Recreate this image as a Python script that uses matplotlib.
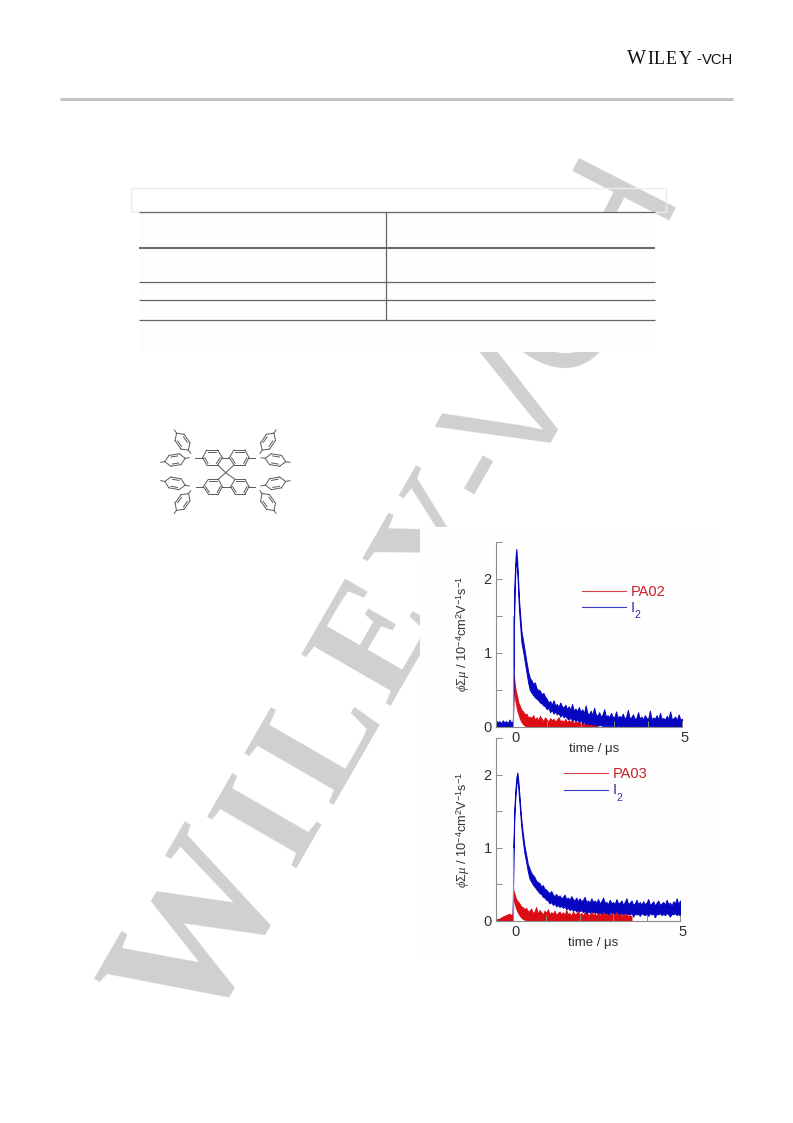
import numpy as np
import matplotlib
matplotlib.use("Agg")
import matplotlib.pyplot as plt
from matplotlib.patches import Rectangle
from matplotlib.transforms import ScaledTranslation

plt.rcParams["font.family"] = ["Liberation Sans", "DejaVu Sans"]
plt.rcParams["mathtext.fontset"] = "custom"
plt.rcParams["mathtext.rm"] = "Liberation Sans"
plt.rcParams["mathtext.it"] = "Liberation Serif:italic"
plt.rcParams["mathtext.bf"] = "Liberation Sans:bold"

# sample times of the decay tails, shared by all traces
t_tail = [0.5, 0.55, 0.6, 0.65, 0.7, 0.75, 0.8, 0.85, 0.9, 0.95,
          1.0, 1.05, 1.1, 1.15, 1.2, 1.25, 1.3, 1.35, 1.4, 1.45,
          1.5, 1.55, 1.6, 1.65, 1.7, 1.75, 1.8, 1.85, 1.9, 1.95,
          2.0, 2.05, 2.1, 2.15, 2.2, 2.25, 2.3, 2.35, 2.4, 2.45,
          2.5, 2.55, 2.6, 2.65, 2.7, 2.75, 2.8, 2.85, 2.9, 2.95,
          3.0, 3.05, 3.1, 3.15, 3.2, 3.25, 3.3, 3.35, 3.4, 3.45,
          3.5, 3.55, 3.6, 3.65, 3.7, 3.75, 3.8, 3.85, 3.9, 3.95,
          4.0, 4.05, 4.1, 4.15, 4.2, 4.25, 4.3, 4.35, 4.4, 4.45,
          4.5, 4.55, 4.6, 4.65, 4.7, 4.75, 4.8, 4.85, 4.9, 4.95, 5.0]

# Upper panel, blue trace (I2): top and bottom edge of the noisy band
t_top_blue = [-0.5, -0.45, -0.4, -0.35, -0.3, -0.25, -0.2, -0.15, -0.1, -0.05, -0.01, 0.0, 0.03, 0.05, 0.08, 0.1, 0.13, 0.18, 0.25, 0.33, 0.4, 0.45] + t_tail
hi_top_blue = [0.09, 0.06, 0.08, 0.05, 0.09, 0.06, 0.08, 0.05, 0.10, 0.06, 0.07, 0.1, 1.45, 2.0, 2.3, 2.4, 2.22, 1.72, 1.3, 1.08, 0.88, 0.75,
               0.66, 0.63, 0.58, 0.60, 0.52, 0.50, 0.49, 0.44, 0.46, 0.41,
               0.38, 0.33, 0.35, 0.30, 0.36, 0.29, 0.31, 0.27, 0.33, 0.28,
               0.26, 0.30, 0.24, 0.28, 0.23, 0.31, 0.22, 0.25, 0.21, 0.27,
               0.20, 0.24, 0.18, 0.29, 0.19, 0.17, 0.22, 0.16, 0.26, 0.17,
               0.15, 0.20, 0.14, 0.17, 0.24, 0.14, 0.16, 0.13, 0.19, 0.14,
               0.13, 0.21, 0.12, 0.15, 0.13, 0.18, 0.11, 0.14, 0.23, 0.12,
               0.13, 0.17, 0.11, 0.12, 0.20, 0.11, 0.14, 0.10, 0.16, 0.12,
               0.11, 0.22, 0.10, 0.13, 0.11, 0.16, 0.10, 0.19, 0.11, 0.12,
               0.10, 0.15, 0.11, 0.21, 0.10, 0.12, 0.14, 0.09, 0.17, 0.10, 0.11]
lo_top_blue = [0.0, 0.01, 0.0, 0.01, 0.0, 0.01, 0.0, 0.01, 0.0, 0.01, 0.0, 0.0, 1.3, 1.85, 2.18, 2.28, 2.08, 1.58, 1.15, 0.94, 0.74, 0.60,
               0.50, 0.46, 0.43, 0.40, 0.38, 0.36, 0.33, 0.32, 0.29, 0.28,
               0.24, 0.26, 0.20, 0.23, 0.18, 0.21, 0.17, 0.19, 0.14, 0.17,
               0.13, 0.15, 0.12, 0.10, 0.13, 0.09, 0.11, 0.08, 0.10, 0.07,
               0.08, 0.05, 0.07, 0.04, 0.06, 0.03, 0.05, 0.03, 0.04, 0.02,
               0.03, 0.02, 0.03, 0.01, 0.02, 0.01, 0.02, 0.01, 0.02, 0.0,
               0.01, 0.0, 0.02, 0.01, 0.0, 0.01, 0.0, 0.02, 0.0, 0.01,
               0.0, 0.01, 0.0, 0.0, 0.02, 0.0, 0.01, 0.0, 0.0, 0.01,
               0.0, 0.01, 0.0, 0.02, 0.0, 0.0, 0.01, 0.0, 0.0, 0.01,
               0.0, 0.01, 0.0, 0.0, 0.02, 0.0, 0.0, 0.01, 0.0, 0.0, 0.01]

# Upper panel, red trace (PA02), band runs down to the axis after the decay
t_top_red = [-0.5, -0.01, 0.0, 0.02, 0.05, 0.08, 0.12, 0.16, 0.2, 0.25, 0.3, 0.35, 0.4, 0.45] + t_tail[:41]
hi_top_red = [0.05, 0.05, 0.08, 0.72, 0.60, 0.50, 0.42, 0.33, 0.29, 0.23, 0.21, 0.17, 0.18, 0.13,
              0.14, 0.12, 0.16, 0.10, 0.13, 0.09, 0.15, 0.11, 0.08, 0.13,
              0.10, 0.07, 0.12, 0.09, 0.11, 0.07, 0.10, 0.13, 0.08, 0.09,
              0.07, 0.11, 0.06, 0.09, 0.07, 0.10, 0.05, 0.08, 0.06, 0.07,
              0.05, 0.07, 0.04, 0.06, 0.05, 0.04, 0.06, 0.03, 0.05, 0.03, 0.04]
lo_top_red_head = [0.0, 0.0, 0.0, 0.62, 0.45, 0.34, 0.24, 0.18, 0.12, 0.07, 0.04, 0.02, 0.01, 0.0]

# Lower panel, blue trace (I2)
t_bot_blue = [-0.5, -0.3, -0.1, -0.01, 0.0, 0.02, 0.05, 0.08, 0.11, 0.14, 0.17, 0.2, 0.25, 0.3, 0.35, 0.4, 0.45] + t_tail
hi_bot_blue = [0.02, 0.04, 0.05, 0.06, 0.1, 1.0, 1.55, 1.8, 1.97, 2.03, 1.9, 1.72, 1.42, 1.2, 1.03, 0.91, 0.78,
               0.72, 0.66, 0.63, 0.60, 0.55, 0.53, 0.52, 0.47, 0.49, 0.44,
               0.43, 0.40, 0.38, 0.41, 0.36, 0.34, 0.37, 0.33, 0.35, 0.31,
               0.33, 0.36, 0.30, 0.32, 0.29, 0.34, 0.30, 0.28, 0.32, 0.27,
               0.31, 0.27, 0.29, 0.33, 0.26, 0.28, 0.25, 0.31, 0.26, 0.28,
               0.25, 0.30, 0.24, 0.27, 0.32, 0.25, 0.26, 0.23, 0.29, 0.24,
               0.26, 0.23, 0.30, 0.24, 0.25, 0.28, 0.22, 0.26, 0.31, 0.23,
               0.25, 0.28, 0.22, 0.24, 0.29, 0.23, 0.26, 0.22, 0.27, 0.23,
               0.25, 0.30, 0.22, 0.24, 0.27, 0.21, 0.25, 0.28, 0.22, 0.24,
               0.26, 0.22, 0.29, 0.23, 0.25, 0.21, 0.27, 0.24, 0.31, 0.23, 0.28]
lo_bot_blue = [0.0, 0.0, 0.01, 0.01, 0.0, 0.9, 1.45, 1.7, 1.87, 1.93, 1.8, 1.62, 1.32, 1.1, 0.93, 0.81, 0.68,
               0.58, 0.54, 0.50, 0.47, 0.44, 0.41, 0.38, 0.37, 0.33, 0.32,
               0.29, 0.28, 0.24, 0.26, 0.22, 0.24, 0.20, 0.22, 0.19, 0.21,
               0.18, 0.20, 0.16, 0.18, 0.15, 0.17, 0.14, 0.16, 0.13, 0.15,
               0.13, 0.15, 0.12, 0.14, 0.10, 0.13, 0.12, 0.09, 0.13, 0.11,
               0.12, 0.10, 0.12, 0.09, 0.12, 0.10, 0.11, 0.08, 0.12, 0.10,
               0.11, 0.08, 0.11, 0.10, 0.07, 0.11, 0.09, 0.11, 0.07, 0.10,
               0.09, 0.11, 0.06, 0.10, 0.09, 0.10, 0.07, 0.11, 0.09, 0.08,
               0.10, 0.07, 0.11, 0.09, 0.10, 0.05, 0.10, 0.09, 0.11, 0.08,
               0.10, 0.08, 0.11, 0.09, 0.06, 0.10, 0.09, 0.11, 0.08, 0.10, 0.07]

# Lower panel, red trace (PA03)
t_bot_red = [-0.5, -0.4, -0.3, -0.2, -0.1, -0.01, 0.0, 0.02, 0.06, 0.1, 0.15, 0.2, 0.25, 0.3, 0.35, 0.4, 0.45] + t_tail[:62]
hi_bot_red = [0.01, 0.03, 0.06, 0.08, 0.10, 0.07, 0.10, 0.42, 0.36, 0.30, 0.27, 0.24, 0.20, 0.19, 0.16, 0.18, 0.13,
              0.14, 0.17, 0.11, 0.13, 0.19, 0.10, 0.15, 0.12, 0.09, 0.14,
              0.11, 0.16, 0.09, 0.12, 0.10, 0.14, 0.08, 0.11, 0.13, 0.09,
              0.12, 0.08, 0.15, 0.09, 0.11, 0.07, 0.13, 0.09, 0.10, 0.14,
              0.08, 0.11, 0.07, 0.12, 0.09, 0.10, 0.07, 0.13, 0.08, 0.10,
              0.07, 0.11, 0.09, 0.07, 0.12, 0.08, 0.10, 0.07, 0.09, 0.11,
              0.07, 0.09, 0.12, 0.07, 0.10, 0.07, 0.09, 0.08, 0.10, 0.06,
              0.08, 0.06]
lo_bot_red_head = [0.0, 0.0, 0.01, 0.01, 0.01, 0.0, 0.0, 0.34, 0.24, 0.17, 0.12, 0.08, 0.05, 0.03, 0.02, 0.01, 0.0]

x_ticks = [0, 5]
x_minor = [1, 2, 3, 4]
y_ticks = [0, 1, 2]
y_minor = [0.5, 1.5, 2.5]
y_label = r"$\phi\Sigma\mu$ / 10$^{-4}$cm$^{2}$V$^{-1}$s$^{-1}$"
x_label = "time / \u03bcs"

# watermark letters: character, font, weight, size, left baseline point on the page (pixels), angle
wm_letters = [("W", "Liberation Serif", "bold", 135, 199, 1041, 60), ("I", "Liberation Serif", "bold", 113, 292, 868, 60),
              ("L", "Liberation Serif", "bold", 113, 331, 805, 60), ("E", "Liberation Serif", "bold", 113, 388, 706, 60),
              ("Y", "Liberation Serif", "bold", 113, 449, 610, 60), ("-", "Liberation Sans", "normal", 113, 499, 512, 60),
              ("V", "Liberation Sans", "normal", 113, 528, 481, 60), ("C", "Liberation Sans", "normal", 113, 572, 385, 60),
              ("H", "Liberation Sans", "normal", 113, 624, 286, 63)]

table_rows = [212, 248, 282, 300, 320]

# header logo pieces: text, font, size, x
logo_parts = [("W", "Liberation Serif", 14.5, 627), ("I", "Liberation Serif", 13, 647), ("L", "Liberation Serif", 13, 653.5),
              ("E", "Liberation Serif", 13, 666), ("Y", "Liberation Serif", 13, 679), ("-", "Liberation Sans", 10.6, 696),
              ("VCH", "Liberation Sans", 10.6, 702)]

GRAY = "#d0d0d0"
BLUE = "#0606c0"
RED = "#dc0c14"
AXC = "#8c8c8c"
TXT = "#303030"

W, H = 793, 1123
fig = plt.figure(figsize=(7.93, 11.23), dpi=100)

# page axes in pixel coordinates
page = fig.add_axes([0, 0, 1, 1])
page.set_xlim(0, W)
page.set_ylim(H, 0)
page.axis("off")

for ch, fam, wt, size, x, y, ang in wm_letters:
    page.text(x, y, ch, family=fam, weight=wt, fontsize=size, color=GRAY, rotation=ang,
              rotation_mode="anchor", ha="left", va="baseline", zorder=1, clip_on=True)

# white panels that hide the watermark
page.add_patch(Rectangle((140, 212), 515, 140, fc="#fdfdfd", ec="none", zorder=2))
page.add_patch(Rectangle((420, 527), 300, 433, fc="#fefefe", ec="none", zorder=2))
page.add_patch(Rectangle((131, 188), 535, 24, fc="none", ec="#ececec", lw=1, zorder=3))

# header
page.plot([60, 733], [99, 99], color="#c4c4c4", lw=2.2, zorder=3, solid_capstyle="butt")
for s, fam, size, x in logo_parts:
    page.text(x, 63.5, s, family=fam, fontsize=size, color="#111111", va="baseline", zorder=3)

# table rules
for i, y in enumerate(table_rows):
    page.plot([139, 655], [y, y], color="#666666", lw=1.4 if i == 1 else 0.9, zorder=3, solid_capstyle="butt")
page.plot([386, 386], [table_rows[0], table_rows[-1]], color="#666666", lw=0.9, zorder=3)

def mol_x(z):
    return 140 + z / 3

def mol_y(z):
    return 420 + z / 3

def bond(x0, y0, x1, y1):
    page.plot([mol_x(x0), mol_x(x1)], [mol_y(y0), mol_y(y1)], color="#5a5a5a", lw=0.7, zorder=3)

rings = [[(200, 90), (233, 90), (247, 113), (233, 135), (200, 135), (188, 113)],
         [(282, 90), (315, 90), (327, 113), (315, 135), (282, 135), (268, 113)],
         [(205, 178), (235, 178), (247, 200), (235, 222), (205, 222), (190, 200)],
         [(285, 178), (315, 178), (327, 200), (315, 222), (285, 222), (272, 200)]]
for r in rings:
    for k in range(6):
        bond(*r[k], *r[(k + 1) % 6])
    # inner double bonds
    c = np.mean(r, axis=0)
    for k in (0, 2, 4):
        a = c + (np.array(r[k]) - c) * 0.78
        b = c + (np.array(r[(k + 1) % 6]) - c) * 0.78
        bond(a[0], a[1], b[0], b[1])

for a, b in [((233, 135), (257, 158)), ((282, 135), (257, 158)), ((235, 178), (257, 158)), ((285, 178), (257, 158)),
             ((247, 113), (268, 113)), ((247, 200), (272, 200)),
             ((188, 113), (165, 113)), ((327, 113), (345, 113)), ((190, 200), (168, 200)), ((327, 200), (345, 200))]:
    bond(*a, *b)

tolyl_ends = [((62, 127), (148, 113)), ((103, 30), (152, 100)), ((62, 182), (148, 198)), ((103, 280), (152, 212)),
              ((450, 127), (363, 113)), ((408, 30), (360, 100)), ((450, 182), (363, 198)), ((408, 280), (360, 212))]
for p0, p1 in tolyl_ends:
    p0 = np.array(p0, float)
    p1 = np.array(p1, float)
    u = (p1 - p0) / np.linalg.norm(p1 - p0)
    n = np.array([-u[1], u[0]])
    c = (p0 + p1) / 2
    # rings look squashed across their long axis
    pts = [c + 31 * np.cos(a) * u + 19 * np.sin(a) * n for a in np.deg2rad([0, 60, 120, 180, 240, 300])]
    for k in range(6):
        bond(*pts[k], *pts[(k + 1) % 6])
    for k in (1, 4):
        a = c + (pts[k] - c) * 0.65
        b = c + (pts[k + 1] - c) * 0.65
        bond(a[0], a[1], b[0], b[1])
    bond(*p0, *pts[3])
    bond(*p1, *pts[0])


def chart_ax(left, right, top, bottom):
    return fig.add_axes([left / W, 1 - bottom / H, (right - left) / W, (bottom - top) / H], facecolor="none")


def style(ax):
    ax.set_xlim(-0.5, 5)
    ax.set_ylim(0, 2.5)
    ax.spines["top"].set_visible(False)
    ax.spines["right"].set_visible(False)
    ax.spines["left"].set_color(AXC)
    ax.spines["bottom"].set_color(AXC)
    ax.spines["left"].set_linewidth(0.8)
    ax.spines["bottom"].set_linewidth(0.8)
    ax.set_xticks(x_ticks)
    ax.set_xticks(x_minor, minor=True)
    ax.set_yticks(y_ticks)
    ax.set_yticks(y_minor, minor=True)
    ax.tick_params(axis="both", which="major", direction="in", length=4, width=0.7, color=AXC,
                   labelsize=10.5, labelcolor=TXT, pad=3)
    ax.tick_params(axis="both", which="minor", direction="in", length=4, width=0.7, color=AXC)
    # the x labels sit a little right of their ticks
    for lab in ax.get_xticklabels():
        lab.set_transform(lab.get_transform() + ScaledTranslation(2.5 / 100, 0, fig.dpi_scale_trans))
    ax.set_ylabel(y_label, fontsize=9.2, color=TXT)
    ax.yaxis.set_label_coords(-0.13, 0.5)
    ax.set_xlabel(x_label, fontsize=9.5, color=TXT)
    ax.xaxis.set_label_coords(0.527, -0.085)


def band(ax, t, lo, hi, color):
    ax.fill_between(t, lo, hi, facecolor=color, edgecolor=color, lw=0.7)


top = chart_ax(496, 682, 541.5, 727)
top.plot([0, 0], [0, 1.5], color="#8a8ac8", lw=0.8)
band(top, t_top_red, lo_top_red_head + [0.0] * 41, hi_top_red, RED)
band(top, t_top_blue, lo_top_blue, hi_top_blue, BLUE)
style(top)

bot = chart_ax(496, 680, 738, 921)
bot.plot([0, 0], [0, 1.0], color="#8a8ac8", lw=0.8)
band(bot, t_bot_blue, lo_bot_blue, hi_bot_blue, BLUE)
band(bot, t_bot_red, lo_bot_red_head + [0.0] * 62, hi_bot_red, RED)
style(bot)

# hand-placed legends
for x0, y_r, y_b, label in [(582, 591, 607, "PA02"), (564, 773, 790, "PA03")]:
    page.plot([x0, x0 + 44], [y_r, y_r], color="#d84048", lw=0.8, zorder=3)
    page.plot([x0, x0 + 44], [y_b, y_b], color="#3a3ac0", lw=0.8, zorder=3)
    page.text(x0 + 49, y_r + 0.5, label, fontsize=10.5, color="#c42028", va="center", zorder=3)
    page.text(x0 + 49, y_b + 0.5, "I", fontsize=10.5, color="#2a2ab0", va="center", zorder=3)
    page.text(x0 + 52, y_b + 8, "2", fontsize=7.5, color="#2a2ab0", va="center", zorder=3)

fig.savefig("out.png", dpi=100)
